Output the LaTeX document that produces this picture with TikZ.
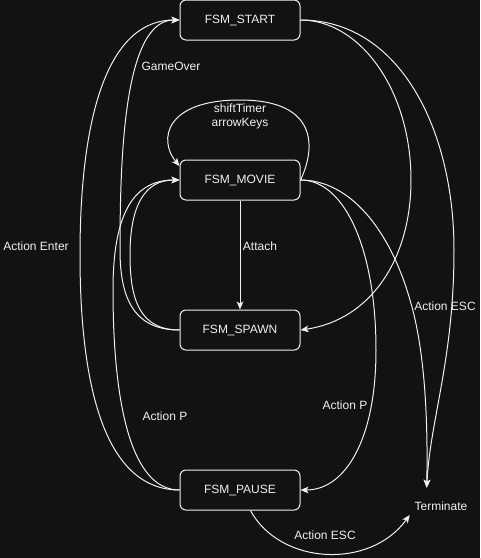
\documentclass[tikz,border=0pt]{standalone}
\usepackage{fontspec}
\setmainfont{Liberation Sans}
\usetikzlibrary{arrows.meta}

\definecolor{bgdark}{RGB}{18,18,18}
\definecolor{fgline}{RGB}{240,240,240}

\tikzset{
  fsm/.style={draw=fgline, fill=bgdark, text=fgline, rounded corners=4.5pt, minimum width=90pt, minimum height=30pt, line width=0.75pt, font=\fontsize{9}{10.5}\selectfont},
  lbl/.style={text=fgline, inner sep=0.75pt, font=\fontsize{9}{10.5}\selectfont, align=center},
  arr/.style={draw=fgline, line width=0.75pt, -{Stealth[length=6pt,width=5pt,inset=1.5pt]}},
}

\begin{document}
\begin{tikzpicture}[x=0.75pt,y=0.75pt,yscale=-1,xscale=1]
  %set diagram left start at 0, and has height of 558
  \fill[bgdark] (0,0) rectangle (480,558);
  \useasboundingbox (0,0) rectangle (480,558);

  % States
  \node[fsm] (start) at (240,20) {FSM\_START};
  \node[fsm] (movie) at (240,180) {FSM\_MOVIE};
  \node[fsm] (spawn) at (240,330) {FSM\_SPAWN};
  \node[fsm] (pause) at (240,490) {FSM\_PAUSE};
  \node[lbl, minimum width=46.5pt, minimum height=27pt] (term) at (441,506) {Terminate};

  %Curve Lines
  \draw[arr] (start.east) .. controls (360,20) and (411,90) .. (411,180) .. controls (411,260) and (370,320) .. (spawn.east);
  %Curve Lines
  \draw[arr] (start.east) .. controls (400,20) and (454,130) .. (454,250) .. controls (454,360) and (430,420) .. (term.128);
  %Curve Lines
  \draw[arr] (movie.east) .. controls (315,150) and (320,100) .. (240,100) .. controls (165,100) and (158,140) .. (movie.167);
  %Straight Lines
  \draw[arr] (movie) -- (spawn);
  %Curve Lines
  \draw[arr] (movie.east) .. controls (345,180) and (376,250) .. (376,350) .. controls (376,440) and (345,490) .. (pause.east);
  %Curve Lines
  \draw[arr] (movie.east) .. controls (350,180) and (390,230) .. (410,300) .. controls (425,350) and (428,420) .. (term.128);
  %Curve Lines
  \draw[arr] (spawn.west) .. controls (135,330) and (120,300) .. (120,250) .. controls (120,150) and (125,20) .. (start.west);
  %Curve Lines
  \draw[arr] (spawn.west) .. controls (140,330) and (130,300) .. (130,255) .. controls (130,205) and (145,180) .. (movie.west);
  %Curve Lines
  \draw[arr] (pause.west) .. controls (110,490) and (80,400) .. (80,255) .. controls (80,110) and (110,20) .. (start.west);
  %Curve Lines
  \draw[arr] (pause.west) .. controls (130,490) and (113,400) .. (113,290) .. controls (113,220) and (130,180) .. (movie.west);
  %Curve Lines
  \draw[arr] (pause.-63) .. controls (280,565) and (370,570) .. (term.196);

  % Text Node
  \node[lbl] (lgameover) at (171,66) {GameOver};
  % Text Node
  \node[lbl] (lloop) at (240,116) {shiftTimer\\arrowKeys};
  % Text Node
  \node[lbl] (lenter) at (36,246) {Action Enter};
  % Text Node
  \node[lbl] (lattach) at (260,246) {Attach};
  % Text Node
  \node[lbl] (lescr) at (445,306) {Action ESC};
  % Text Node
  \node[lbl] (lpr) at (345,405) {Action P};
  % Text Node
  \node[lbl] (lpl) at (165,416) {Action P};
  % Text Node
  \node[lbl] (lescb) at (325,535) {Action ESC};

\end{tikzpicture}
\end{document}
